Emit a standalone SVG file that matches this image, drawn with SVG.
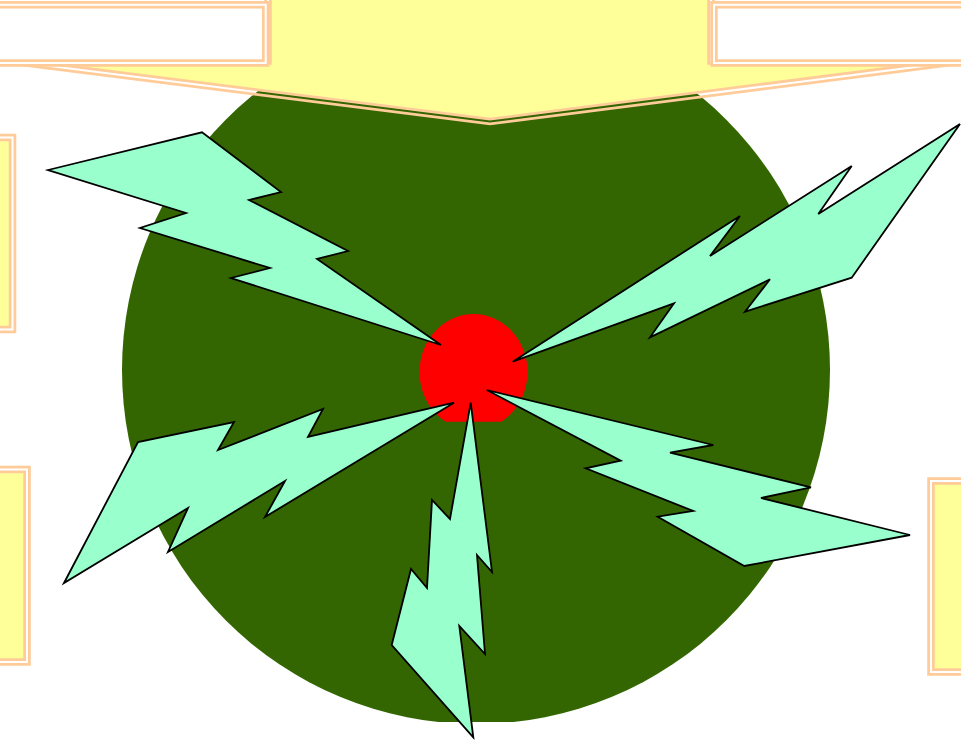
<svg xmlns="http://www.w3.org/2000/svg" width="961" height="741" viewBox="0 0 961 741">
<style>
.bolt{fill:#99FFCC;stroke:#000;stroke-width:1.8;stroke-linejoin:miter}
.dbl{stroke:#FFCC99;stroke-width:7.5}
.gap{fill:none;stroke:#FFFFFF;stroke-width:2}
</style>
<defs>
<clipPath id="slide"><rect x="0" y="0" width="961" height="722"/></clipPath>
<clipPath id="redclip"><rect x="0" y="0" width="961" height="421.7"/></clipPath>
<mask id="bannerMask" maskUnits="userSpaceOnUse" x="0" y="-20" width="961" height="200">
<rect x="0" y="-20" width="961" height="200" fill="#fff"/>
<polygon points="10,61 268,61 268,-10 711,-10 711,61 962,61 490,121.5" fill="none" stroke="#000" stroke-width="2"/>
</mask>
</defs>
<rect width="961" height="741" fill="#FFFFFF"/>
<g id="globe">
<circle cx="476" cy="370" r="354" fill="#336600" clip-path="url(#slide)"/>
</g>
<g id="banner" mask="url(#bannerMask)">
<polygon points="10,61 268,61 268,-10 711,-10 711,61 962,61 490,121.5" fill="#FFFF99" class="dbl"/>
</g>
<g id="box-top-left">
<rect x="-10" y="4.8" width="275.7" height="58.2" fill="#FFFFFF" class="dbl"/>
<rect x="-10" y="4.8" width="275.7" height="58.2" class="gap"/>
</g>
<g id="box-top-right">
<rect x="714" y="4.8" width="260" height="58.2" fill="#FFFFFF" class="dbl"/>
<rect x="714" y="4.8" width="260" height="58.2" class="gap"/>
</g>
<g id="box-left-1">
<rect x="-10" y="137.5" width="22.5" height="192" fill="#FFFF99" class="dbl"/>
<rect x="-10" y="137.5" width="22.5" height="192" class="gap"/>
</g>
<g id="box-left-2">
<rect x="-10" y="469.5" width="37" height="192.5" fill="#FFFF99" class="dbl"/>
<rect x="-10" y="469.5" width="37" height="192.5" class="gap"/>
</g>
<g id="box-right">
<rect x="931" y="481" width="44" height="191" fill="#FFFF99" class="dbl"/>
<rect x="931" y="481" width="44" height="191" class="gap"/>
</g>
<g id="sun">
<ellipse cx="473.5" cy="372" rx="54" ry="58" fill="#FF0000" clip-path="url(#redclip)"/>
</g>
<g id="connectors">
<polygon id="bolt-upper-left" class="bolt" points="48,170 202,132.3 281,192 249,200 348,251 317,259 441,345 231,278 270,268 140,228 186,213"/>
<polygon id="bolt-upper-right" class="bolt" points="960,124 851.7,277.7 745,311.7 770,279.3 650,337.3 674,303.3 512.7,361.7 740,216 710,256 851.7,166 818.3,214"/>
<polygon id="bolt-lower-left" class="bolt" points="64,583 138,442 234,422 218,450 323,409 308,437 454,402.7 265,517 285,481 168,552 188,508"/>
<polygon id="bolt-bottom" class="bolt" points="473.3,737.3 391.7,645 411,569 427,588 432,500 450,519 470.7,402.7 492,572 477,555 485,654 459.3,626"/>
<polygon id="bolt-lower-right" class="bolt" points="486.7,390 713.3,445 670,452.7 811,487.3 761,498 910,535 744.3,566 657.7,516.7 693.3,511 585.7,468.3 620.7,460.7"/>
</g>
</svg>
